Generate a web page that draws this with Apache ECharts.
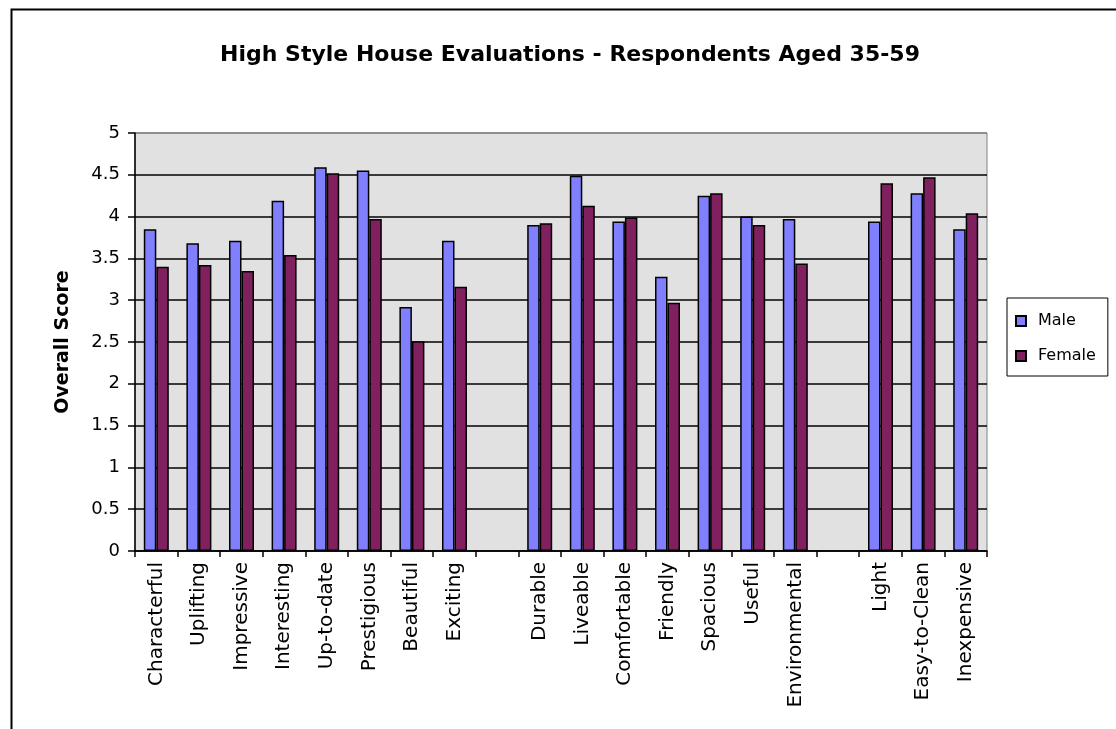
<!DOCTYPE html>
<html>
<head>
<meta charset="utf-8">
<title>High Style House Evaluations - Respondents Aged 35-59</title>
<script src="https://cdn.jsdelivr.net/npm/echarts@6/dist/echarts.min.js"></script>
<style>
  html, body { margin: 0; padding: 0; background: #ffffff; }
  #chart { width: 1116px; height: 729px; }
</style>
</head>
<body>
<div id="chart"></div>
<script>
// Attribute words, grouped into three blocks separated by empty slots
const categories = [
  'Characterful', 'Uplifting', 'Impressive', 'Interesting', 'Up-to-date',
  'Prestigious', 'Beautiful', 'Exciting', ' ',
  'Durable', 'Liveable', 'Comfortable', 'Friendly', 'Spacious', 'Useful',
  'Environmental', '  ',
  'Light', 'Easy-to-Clean', 'Inexpensive'
];

// Mean overall score per attribute
const maleScores = [
  3.85, 3.68, 3.71, 4.19, 4.59, 4.55, 2.92, 3.71, null,
  3.90, 4.49, 3.94, 3.28, 4.25, 4.00, 3.97, null,
  3.94, 4.28, 3.85
];
const femaleScores = [
  3.40, 3.42, 3.35, 3.54, 4.52, 3.97, 2.51, 3.16, null,
  3.92, 4.13, 3.99, 2.97, 4.28, 3.90, 3.44, null,
  4.40, 4.47, 4.04
];

const yTicks = { min: 0, max: 5, step: 0.5 };

const FONT = 'DejaVu Sans';
const chart = echarts.init(document.getElementById('chart'), null, { renderer: 'canvas' });

// Gridline colours: black inside the plot, grey along the top edge
const gridLineColors = [];
for (let v = yTicks.min; v <= yTicks.max + 1e-9; v += yTicks.step) {
  gridLineColors.push(Math.abs(v - yTicks.max) < 1e-9 ? '#808080' : '#000000');
}

chart.setOption({
  backgroundColor: '#ffffff',
  animation: false,
  title: {
    text: 'High Style House Evaluations - Respondents Aged 35-59',
    left: 570,
    top: 44,
    textAlign: 'center',
    padding: 0,
    textStyle: { fontFamily: FONT, fontSize: 22, fontWeight: 'bold', color: '#000' }
  },
  graphic: [{
    // chart-area frame
    type: 'rect',
    left: 9, top: 7,
    shape: { width: 1200, height: 800 },
    style: { fill: null, stroke: '#000', lineWidth: 2 },
    silent: true,
    z: -1
  }],
  legend: {
    orient: 'vertical',
    left: 1007,
    top: 298,
    padding: [14, 12, 11, 8],
    itemWidth: 10,
    itemHeight: 10,
    itemGap: 17,
    icon: 'rect',
    borderColor: '#000',
    borderWidth: 1,
    backgroundColor: '#fff',
    textStyle: { fontFamily: FONT, fontSize: 16, lineHeight: 18, color: '#000', padding: [0, 0, 0, 7] },
    data: ['Male', 'Female']
  },
  grid: {
    left: 135,
    right: 129,
    top: 133,
    bottom: 178,
    show: true,
    backgroundColor: '#E1E1E1',
    borderColor: '#808080',
    borderWidth: 1
  },
  xAxis: {
    type: 'category',
    data: categories,
    boundaryGap: true,
    axisLine: { lineStyle: { color: '#000', width: 1.5 } },
    axisTick: { show: true, interval: 0, length: 6, lineStyle: { color: '#000', width: 1.5 } },
    axisLabel: {
      interval: 0,
      rotate: 90,
      margin: 11,
      fontFamily: FONT,
      fontSize: 20,
      color: '#000'
    },
    splitLine: { show: false }
  },
  yAxis: {
    type: 'value',
    min: yTicks.min,
    max: yTicks.max,
    interval: yTicks.step,
    name: 'Overall Score',
    nameLocation: 'middle',
    nameRotate: 90,
    nameGap: 62,
    nameTextStyle: { fontFamily: FONT, fontSize: 19, fontWeight: 'bold', color: '#000' },
    axisLine: { show: true, lineStyle: { color: '#000', width: 1.5 } },
    axisTick: { show: true, length: 7, lineStyle: { color: '#000', width: 1.5 } },
    axisLabel: { margin: 15, fontFamily: FONT, fontSize: 18, color: '#000' },
    splitLine: { show: true, lineStyle: { color: gridLineColors, width: 1.5 } }
  },
  series: [
    {
      name: 'Male',
      type: 'bar',
      data: maleScores,
      barWidth: 12.5,
      barGap: '0%',
      itemStyle: { color: '#8080FF', borderColor: '#000', borderWidth: 1.5 }
    },
    {
      name: 'Female',
      type: 'bar',
      data: femaleScores,
      barWidth: 12.5,
      barGap: '0%',
      itemStyle: { color: '#80205F', borderColor: '#000', borderWidth: 1.5 }
    }
  ]
});
</script>
</body>
</html>
